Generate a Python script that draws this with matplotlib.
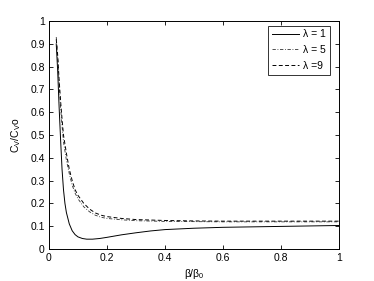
import numpy as np
import matplotlib
matplotlib.use("Agg")
import matplotlib.pyplot as plt

plt.rcParams["font.family"] = ["Liberation Sans", "DejaVu Sans"]
plt.rcParams["mathtext.fontset"] = "custom"
plt.rcParams["mathtext.rm"] = "Liberation Sans"
plt.rcParams["mathtext.it"] = "Liberation Sans"

# lambda = 1 (solid)
x1 = [0.025, 0.03, 0.035, 0.04, 0.045, 0.05, 0.055, 0.06, 0.07, 0.08, 0.09,
      0.1, 0.115, 0.13, 0.15, 0.175, 0.2, 0.25, 0.3, 0.35, 0.4, 0.5, 0.6,
      0.7, 0.8, 0.9, 1.0]
y1 = [0.90, 0.78, 0.62, 0.48, 0.35, 0.26, 0.20, 0.16, 0.11, 0.08, 0.063,
      0.053, 0.046, 0.043, 0.043, 0.046, 0.051, 0.062, 0.071, 0.079, 0.085,
      0.091, 0.095, 0.097, 0.099, 0.101, 0.103]

# lambda = 5 (dash-dot)
x5 = [0.025, 0.03, 0.035, 0.04, 0.045, 0.05, 0.06, 0.07, 0.08, 0.09, 0.1,
      0.12, 0.14, 0.16, 0.18, 0.2, 0.25, 0.3, 0.4, 0.5, 0.6, 0.8, 1.0]
y5 = [0.93, 0.84, 0.72, 0.62, 0.54, 0.47, 0.39, 0.33, 0.28, 0.245, 0.22,
      0.185, 0.163, 0.148, 0.139, 0.134, 0.128, 0.124, 0.121, 0.120, 0.119,
      0.119, 0.119]

# lambda = 9 (dashed)
x9 = [0.025, 0.03, 0.035, 0.04, 0.045, 0.05, 0.06, 0.07, 0.08, 0.09, 0.1,
      0.12, 0.14, 0.16, 0.18, 0.2, 0.25, 0.3, 0.4, 0.5, 0.6, 0.8, 1.0]
y9 = [0.92, 0.85, 0.74, 0.65, 0.57, 0.50, 0.42, 0.35, 0.30, 0.26, 0.235,
      0.20, 0.175, 0.158, 0.148, 0.142, 0.134, 0.129, 0.125, 0.123, 0.122,
      0.122, 0.122]

labels = ["λ = 1", "λ = 5", "λ =9"]

fig = plt.figure(figsize=(3.74, 2.81), dpi=100)
ax = fig.add_axes([0.131, 0.114, 0.775, 0.811])

ax.plot(x1, y1, color="black", linestyle="-", linewidth=0.7, label=labels[0])
ax.plot(x5, y5, color="#333333", linestyle="-.", linewidth=0.6, label=labels[1],
        dashes=(4, 2, 1, 2))
ax.plot(x9, y9, color="black", linestyle="--", linewidth=0.7, label=labels[2],
        dashes=(4, 2.5))

ax.set_xlim(0, 1)
ax.set_ylim(0, 1)
ax.set_xticks(np.arange(0, 1.01, 0.2))
ax.set_xticklabels(["0", "0.2", "0.4", "0.6", "0.8", "1"])
ax.set_yticks(np.arange(0, 1.01, 0.1))
ax.set_yticklabels(["0", "0.1", "0.2", "0.3", "0.4", "0.5", "0.6", "0.7",
                    "0.8", "0.9", "1"])
ax.tick_params(direction="in", top=True, right=True, length=3, width=0.6,
               labelsize=7.5, pad=3)
for s in ax.spines.values():
    s.set_linewidth(0.7)

ax.set_xlabel(r"β/β$_0$", fontsize=7.5, labelpad=2.5)
ax.set_ylabel(r"C$_V$/C$_V$o", fontsize=7.5, labelpad=5)

leg = ax.legend(loc="upper right", fontsize=7.5, frameon=True, fancybox=False,
                edgecolor="black", handlelength=2.6, handletextpad=0.4,
                borderpad=0.35, labelspacing=0.55, borderaxespad=0.45,
                bbox_to_anchor=(0.985, 1.0))
leg.get_frame().set_linewidth(0.7)

fig.savefig("out.png", dpi=100)
